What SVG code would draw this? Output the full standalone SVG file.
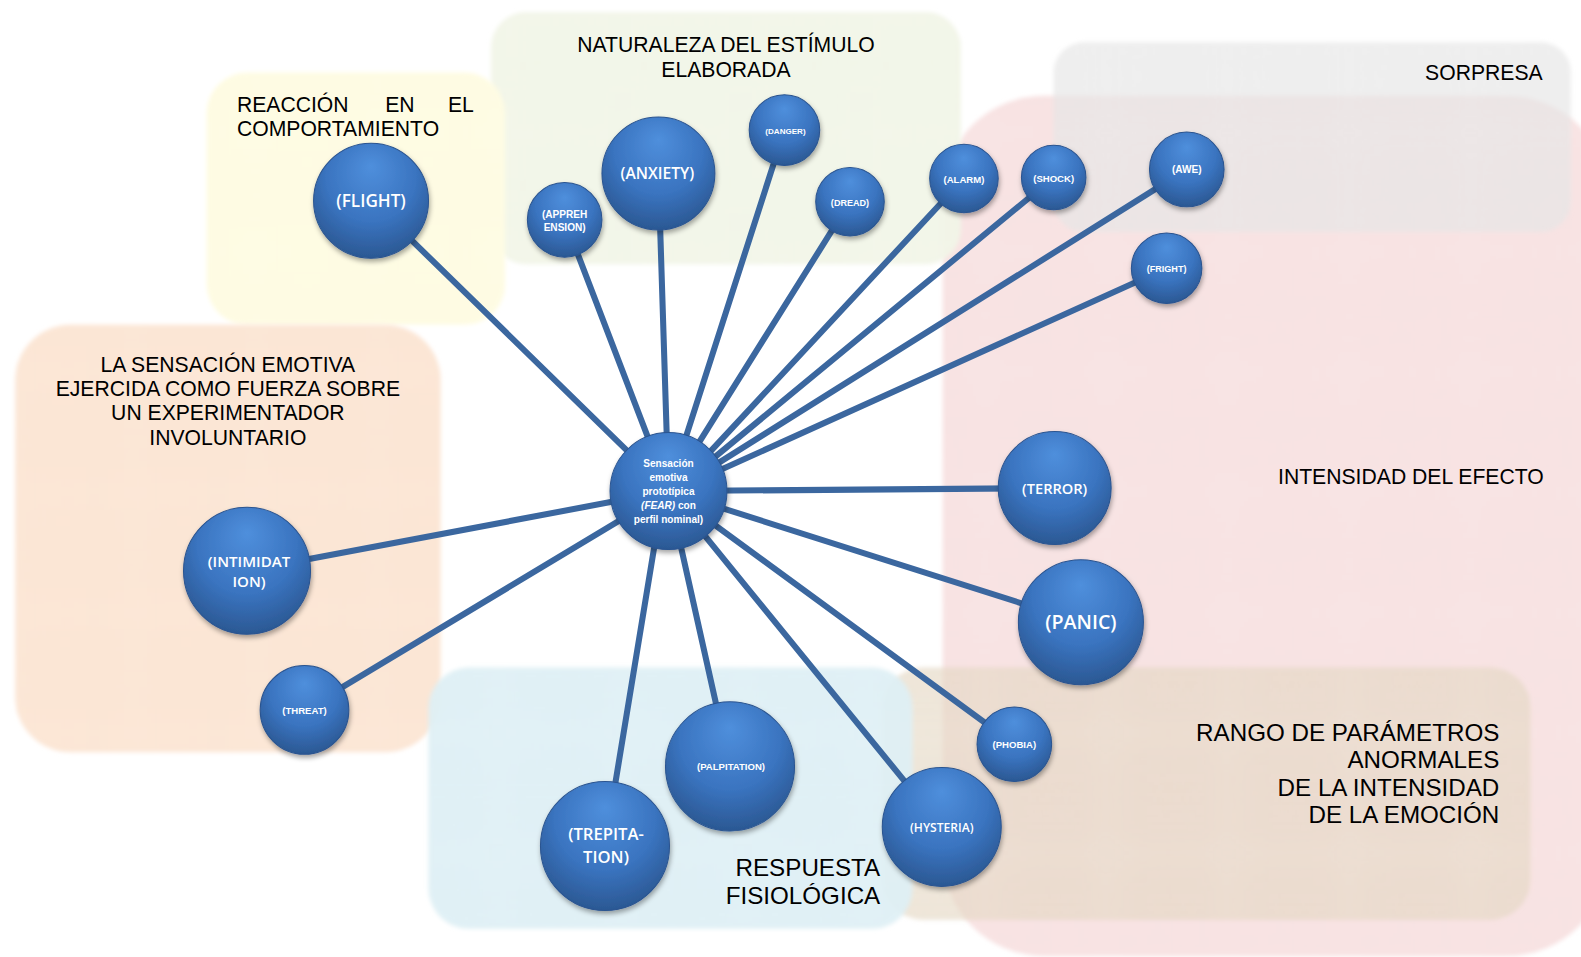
<svg xmlns="http://www.w3.org/2000/svg" width="1581" height="957" viewBox="0 0 1581 957">
<defs>
<pattern id="grid" width="4" height="4" patternUnits="userSpaceOnUse">
<path d="M0 0.5H4M0.5 0V4" stroke="#ffffff" stroke-width="1" opacity="0.45"/>
</pattern>
<radialGradient id="ball" cx="50%" cy="35%" r="65%" fx="50%" fy="20%">
<stop offset="0" stop-color="#4f8fdc"/>
<stop offset="0.6" stop-color="#3a74c0"/>
<stop offset="1" stop-color="#2b5893"/>
</radialGradient>
<filter id="shadow" x="-20%" y="-20%" width="140%" height="140%">
<feDropShadow dx="1" dy="3" stdDeviation="2.5" flood-color="#000" flood-opacity="0.35"/>
</filter>
<filter id="soft" x="-5%" y="-5%" width="110%" height="110%">
<feGaussianBlur stdDeviation="2"/>
</filter>
<style>
.lab{font-family:"Liberation Sans",Arial,sans-serif;font-size:21px;fill:#000}
.lab2{font-family:"Liberation Sans",Arial,sans-serif;font-size:24px;fill:#000}
.nt{font-family:"Open Sans","Liberation Sans",sans-serif;fill:#fff;text-anchor:middle;font-weight:600}
.nb{font-family:"Liberation Sans",Arial,sans-serif;fill:#fff;text-anchor:middle;font-weight:bold}
.ball{fill:url(#ball);stroke:#2a5490;stroke-width:1;filter:url(#shadow)}
.con{stroke:#3b679f;stroke-width:6;stroke-linecap:round;fill:none}
.grid{fill:url(#grid)}
</style>
</defs>
<rect width="1581" height="957" fill="#ffffff"/>
<g transform="scale(1.0083,1.0084)">
<g id="regions">
<g id="r-intensidad" filter="url(#soft)">
<rect x="935" y="95" width="660" height="853" rx="100" fill="#f6dcdc"/>
<rect x="935" y="95" width="660" height="853" rx="100" class="grid"/>
</g>
<g id="r-sorpresa" filter="url(#soft)">
<rect x="1045" y="42" width="513" height="188" rx="30" fill="#dcdcdc" opacity="0.6"/>
<rect x="1045" y="42" width="513" height="188" rx="30" class="grid"/>
</g>
<g id="r-rango" filter="url(#soft)">
<rect x="875" y="662" width="643" height="250" rx="40" fill="#d9c6aa" opacity="0.55"/>
<rect x="875" y="662" width="643" height="250" rx="40" class="grid"/>
</g>
<g id="r-naturaleza" filter="url(#soft)">
<rect x="487" y="12" width="466" height="250" rx="35" fill="#eef2e2" opacity="0.95"/>
<rect x="487" y="12" width="466" height="250" rx="35" class="grid"/>
</g>
<g id="r-reaccion" filter="url(#soft)">
<rect x="205" y="72" width="296" height="250" rx="40" fill="#fefbdc"/>
<rect x="205" y="72" width="296" height="250" rx="40" class="grid"/>
</g>
<g id="r-sensacion" filter="url(#soft)">
<rect x="15" y="322" width="422" height="424" rx="55" fill="#fbe0cb"/>
<rect x="15" y="322" width="422" height="424" rx="55" class="grid"/>
</g>
<g id="r-respuesta" filter="url(#soft)">
<rect x="425" y="662" width="480" height="259" rx="40" fill="#d6ebf2" opacity="0.92"/>
<rect x="425" y="662" width="480" height="259" rx="40" class="grid"/>
</g>
</g>
<g id="labels">
<text class="lab" x="720" y="52" text-anchor="middle">NATURALEZA DEL ESTÍMULO</text>
<text class="lab" x="720" y="76" text-anchor="middle">ELABORADA</text>
<text class="lab" x="235" y="111">REACCIÓN</text>
<text class="lab" x="382" y="111">EN</text>
<text class="lab" x="470" y="111" text-anchor="end">EL</text>
<text class="lab" x="235" y="135">COMPORTAMIENTO</text>
<text class="lab" x="1530" y="79" text-anchor="end">SORPRESA</text>
<text class="lab" x="226" y="369" text-anchor="middle">LA SENSACIÓN EMOTIVA</text>
<text class="lab" x="226" y="393" text-anchor="middle">EJERCIDA COMO FUERZA SOBRE</text>
<text class="lab" x="226" y="417" text-anchor="middle">UN EXPERIMENTADOR</text>
<text class="lab" x="226" y="441" text-anchor="middle">INVOLUNTARIO</text>
<text class="lab" x="1531" y="480" text-anchor="end">INTENSIDAD DEL EFECTO</text>
<text class="lab2" x="873" y="869" text-anchor="end">RESPUESTA</text>
<text class="lab2" x="873" y="896" text-anchor="end">FISIOLÓGICA</text>
<text class="lab2" x="1487" y="735" text-anchor="end">RANGO DE PARÁMETROS</text>
<text class="lab2" x="1487" y="762" text-anchor="end">ANORMALES</text>
<text class="lab2" x="1487" y="789" text-anchor="end">DE LA INTENSIDAD</text>
<text class="lab2" x="1487" y="816" text-anchor="end">DE LA EMOCIÓN</text>
</g>
<g id="connectors">
<line class="con" x1="663" y1="487" x2="368" y2="199"/>
<line class="con" x1="663" y1="487" x2="560" y2="218"/>
<line class="con" x1="663" y1="487" x2="653" y2="172"/>
<line class="con" x1="663" y1="487" x2="778" y2="129"/>
<line class="con" x1="663" y1="487" x2="843" y2="200"/>
<line class="con" x1="668" y1="487" x2="956" y2="177"/>
<line class="con" x1="668" y1="487" x2="1045" y2="176"/>
<line class="con" x1="668" y1="487" x2="1177" y2="168"/>
<line class="con" x1="668" y1="487" x2="1157" y2="266"/>
<line class="con" x1="663" y1="487" x2="1046" y2="484"/>
<line class="con" x1="663" y1="487" x2="1072" y2="617"/>
<line class="con" x1="663" y1="487" x2="1006" y2="738"/>
<line class="con" x1="663" y1="487" x2="934" y2="820"/>
<line class="con" x1="663" y1="487" x2="724" y2="760"/>
<line class="con" x1="658" y1="487" x2="600" y2="839"/>
<line class="con" x1="663" y1="487" x2="302" y2="704"/>
<line class="con" x1="663" y1="487" x2="245" y2="566"/>
</g>
<g id="n-center"><circle class="ball" cx="663" cy="487" r="58"/>
<text class="nb" font-size="10" x="663"><tspan x="663" y="463">Sensación</tspan><tspan x="663" y="477">emotiva</tspan><tspan x="663" y="491">prototípica</tspan><tspan x="663" y="505"><tspan font-style="italic">(FEAR)</tspan> con</tspan><tspan x="663" y="519">perfil nominal)</tspan></text></g>
<g id="n-flight"><circle class="ball" cx="368" cy="199" r="57"/><text class="nt" font-size="17" x="368" y="205">(FLIGHT)</text></g>
<g id="n-apprehension"><circle class="ball" cx="560" cy="218" r="37"/><text class="nb" font-size="10"><tspan x="560" y="216">(APPREH</tspan><tspan x="560" y="229">ENSION)</tspan></text></g>
<g id="n-anxiety"><circle class="ball" cx="653" cy="172" r="56"/><text class="nt" font-size="15.5" x="652" y="178">(ANXIETY)</text></g>
<g id="n-danger"><circle class="ball" cx="778" cy="129" r="35"/><text class="nb" font-size="8" x="779" y="133">(DANGER)</text></g>
<g id="n-dread"><circle class="ball" cx="843" cy="200" r="34"/><text class="nb" font-size="9" x="843" y="204">(DREAD)</text></g>
<g id="n-alarm"><circle class="ball" cx="956" cy="177" r="34"/><text class="nb" font-size="9.5" x="956" y="181">(ALARM)</text></g>
<g id="n-shock"><circle class="ball" cx="1045" cy="176" r="32"/><text class="nb" font-size="9.5" x="1045" y="180">(SHOCK)</text></g>
<g id="n-awe"><circle class="ball" cx="1177" cy="168" r="37"/><text class="nb" font-size="10" x="1177" y="172">(AWE)</text></g>
<g id="n-fright"><circle class="ball" cx="1157" cy="266" r="35"/><text class="nb" font-size="9" x="1157" y="270">(FRIGHT)</text></g>
<g id="n-terror"><circle class="ball" cx="1046" cy="484" r="56"/><text class="nt" font-size="14.5" x="1046" y="490">(TERROR)</text></g>
<g id="n-panic"><circle class="ball" cx="1072" cy="617" r="62"/><text class="nt" font-size="19.5" x="1072" y="624">(PANIC)</text></g>
<g id="n-phobia"><circle class="ball" cx="1006" cy="738" r="37"/><text class="nb" font-size="9.5" x="1006" y="742">(PHOBIA)</text></g>
<g id="n-hysteria"><circle class="ball" cx="934" cy="820" r="59"/><text class="nt" font-size="12" x="934" y="825">(HYSTERIA)</text></g>
<g id="n-palpitation"><circle class="ball" cx="724" cy="760" r="64"/><text class="nb" font-size="9.5" x="725" y="764">(PALPITATION)</text></g>
<g id="n-trepitation"><circle class="ball" cx="600" cy="839" r="64"/><text class="nt" font-size="16.5"><tspan x="601" y="833">(TREPITA-</tspan><tspan x="601" y="856">TION)</tspan></text></g>
<g id="n-threat"><circle class="ball" cx="302" cy="704" r="44"/><text class="nb" font-size="9.5" x="302" y="708">(THREAT)</text></g>
<g id="n-intimidation"><circle class="ball" cx="245" cy="566" r="63"/><text class="nt" font-size="15"><tspan x="247" y="562">(INTIMIDAT</tspan><tspan x="247" y="582">ION)</tspan></text></g>
</g>
</svg>
